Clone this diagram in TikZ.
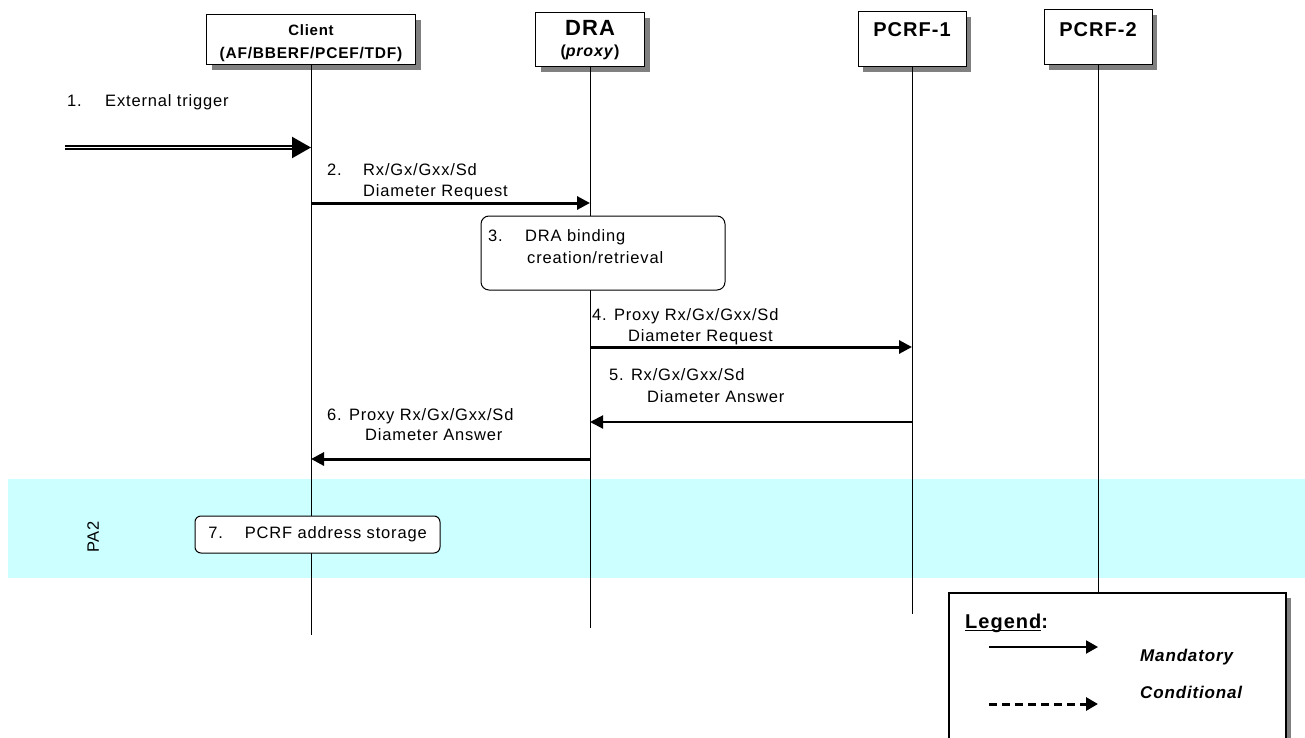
\documentclass[tikz,border=0pt]{standalone}
\usepackage{fontspec}
\setmainfont{Liberation Sans}[LetterSpace=5]
\usetikzlibrary{arrows.meta,shadows}
\definecolor{bandcol}{HTML}{CCFFFF}
\definecolor{shadowcol}{HTML}{808080}
\newsavebox{\legbox}
\tikzset{
  hdr/.style={draw, line width=1pt, fill=white, inner sep=0pt,
    drop shadow={shadow xshift=5pt, shadow yshift=-5pt, fill=shadowcol, opacity=1}},
  life/.style={line width=1pt},
  lbl/.style={anchor=west, inner sep=0pt, font=\fontsize{16.5}{20}\selectfont, text height=0.72em, text depth=0pt},
  htxt/.style={inner sep=0pt, text height=0.72em, text depth=0pt},
  stepbox/.style={draw, line width=1pt, fill=white, inner sep=0pt},
  msg/.style={line width=3pt, -{Triangle[length=13pt,width=13pt]}},
  msgthin/.style={line width=2pt, -{Triangle[length=13pt,width=13pt]}},
  trig/.style={double, double distance=1pt, line width=2.2pt, -{Triangle[length=19pt,width=21pt]}},
}
\begin{document}
\begin{tikzpicture}[x=1pt,y=-1pt]
\useasboundingbox (0,0) rectangle (1305,738);
% PA2 band
\fill[bandcol] (8,479) rectangle (1305,578);
\node[rotate=90, font=\fontsize{16.5}{20}\selectfont, inner sep=0pt] (pa2) at (93,537) {PA2};

% headers
\node[hdr, minimum width=209pt, minimum height=50pt] (client) at (311,40) {};
\node[hdr, minimum width=109pt, minimum height=54pt] (dra) at (590,40) {};
\node[hdr, minimum width=108pt, minimum height=55pt] (pcrf1) at (912,39.5) {};
\node[hdr, minimum width=108pt, minimum height=55pt] (pcrf2) at (1098,37.5) {};
\node[htxt, font=\fontsize{15}{18}\selectfont\bfseries] (clientA) at (311,31.5) {Client};
\node[htxt, font=\fontsize{15.5}{18}\selectfont\bfseries] (clientB) at (311,55) {(AF/BBERF/PCEF/TDF)};
\node[htxt, font=\fontsize{22}{26}\selectfont\bfseries] (draA) at (590,32) {DRA};
\node[htxt, font=\fontsize{16}{19}\selectfont\bfseries] (draB) at (590,52.5) {(\textit{proxy})};
\node[htxt, font=\fontsize{20}{24}\selectfont\bfseries] (pcrf1T) at (912,33) {PCRF-1};
\node[htxt, font=\fontsize{20}{24}\selectfont\bfseries] (pcrf2T) at (1098,33) {PCRF-2};

% legend box
\node[hdr, line width=1.8pt, minimum width=337pt, minimum height=170pt, anchor=north west] (legend) at (948,592) {};

% lifelines
\coordinate (clientEnd) at (311,635);
\coordinate (draEnd) at (590,628);
\coordinate (pcrf1End) at (912,614);
\draw[life] (client.south) -- (clientEnd);
\draw[life] (dra.south) -- (draEnd);
\draw[life] (pcrf1.south) -- (pcrf1End);
\draw[life] (pcrf2.south) -- (pcrf2 |- legend.north);

% step 1
\node[lbl] (s1n) at (67,103) {1.};
\node[lbl] (s1t) at (105,103) {External trigger};
\coordinate (trigStart) at (65,147.5);
\draw[trig] (trigStart) -- (client |- trigStart);

% step 2
\node[lbl] (s2n) at (327,172) {2.};
\node[lbl] (s2a) at (363,172) {Rx/Gx/Gxx/Sd};
\node[lbl] (s2b) at (363,192.5) {Diameter Request};
\draw[msg] (client |- 0,203) -- (dra |- 0,203);

% step 3
\node[stepbox, rounded corners=8pt, minimum width=244pt, minimum height=74pt] (s3) at (603,253) {};
\node[lbl] (s3n) at (488,238) {3.};
\node[lbl] (s3a) at (525,238) {DRA binding};
\node[lbl] (s3b) at (527,260) {creation/retrieval};

% step 4
\node[lbl] (s4a) at (592,317) {4. Proxy Rx/Gx/Gxx/Sd};
\node[lbl] (s4b) at (628,338) {Diameter Request};
\draw[msg] (dra |- 0,347) -- (pcrf1 |- 0,347);

% step 5
\node[lbl] (s5a) at (609,377) {5. Rx/Gx/Gxx/Sd};
\node[lbl] (s5b) at (647,399) {Diameter Answer};
\draw[msgthin] (pcrf1 |- 0,422) -- (dra |- 0,422);

% step 6
\node[lbl] (s6a) at (327,417) {6. Proxy Rx/Gx/Gxx/Sd};
\node[lbl] (s6b) at (365,437) {Diameter Answer};
\draw[msg] (dra |- 0,459) -- (client |- 0,459);

% step 7
\node[stepbox, rounded corners=6pt, minimum width=245pt, minimum height=37pt, font=\fontsize{16.5}{20}\selectfont] (s7) at (317.5,534.5) {7.\hspace{22pt}PCRF address storage};

% legend contents
\node[anchor=base west, inner sep=0pt, font=\fontsize{20}{24}\selectfont\bfseries] (legT) at (965,628)
  {\sbox\legbox{Legend}\usebox\legbox\llap{\vrule height -1.5pt depth 3pt width \wd\legbox}:};
\coordinate (mA) at (989,647);
\coordinate (mB) at (1098,647);
\draw[line width=2pt, -{Triangle[length=12pt,width=13pt]}] (mA) -- (mB);
\node[htxt, anchor=west, font=\fontsize{17}{20}\selectfont\bfseries\itshape] (mandT) at (1140,658) {Mandatory};
\coordinate (cA) at (989,704);
\coordinate (cB) at (1098,704);
\draw[line width=3pt, dash pattern=on 8pt off 5pt, -{Triangle[length=12pt,width=13pt]}] (cA) -- (cB);
\node[htxt, anchor=west, font=\fontsize{17}{20}\selectfont\bfseries\itshape] (condT) at (1140,695) {Conditional};
\end{tikzpicture}
\end{document}
